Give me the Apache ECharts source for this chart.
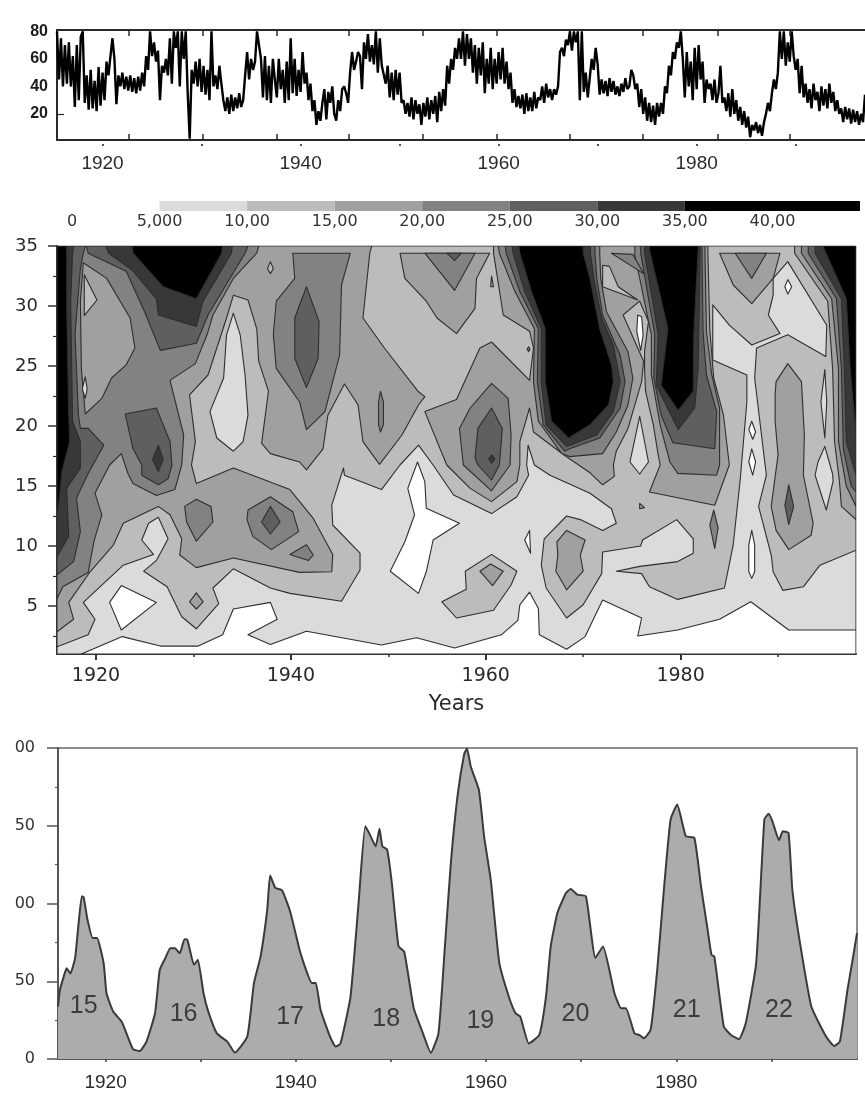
<!DOCTYPE html>
<html><head><meta charset="utf-8">
<style>html,body{margin:0;padding:0;background:#fff}#c{width:865px;height:1093px}</style>
<script src="https://cdn.jsdelivr.net/npm/echarts@6/dist/echarts.min.js"></script>
</head><body><div id="c"></div>
<script>
// ---------- top panel: noisy index, one value each 0.2 yr from 1915.4
const topStartYear = 1915.4, topStepYears = 0.2;
const topValues = [
80,45,75,40,70, 42,72,40,62,25, 70,30,76,80,28, 48,23,52,24,44, 22,54,26,50,30,
58,48,62,75,60, 27,48,40,50,38, 47,37,48,36,46, 35,47,37,50,40, 62,52,80,62,72,
58,66,30,55,50, 60,48,75,42,80, 68,80,40,80,60, 80,35,2,52,42, 58,40,60,36,55,
34,52,30,80,40, 48,38,55,42,30, 22,32,20,34,22, 32,24,35,25,30, 48,65,45,60,52,
58,80,70,60,32, 62,30,55,28,60, 45,32,60,38,52, 28,58,30,75,35, 60,33,52,36,65,
42,50,30,42,22, 30,12,22,15,28, 38,16,36,28,40, 20,15,30,22,38, 40,35,28,50,65,
52,58,65,62,38, 72,60,78,58,70, 56,80,50,75,55, 54,42,55,32,50, 30,52,34,50,28,
30,20,28,18,32, 16,30,20,27,12, 28,18,32,16,30, 20,33,14,36,22, 38,26,55,42,60,
52,68,60,75,60, 80,55,78,60,75, 50,70,42,68,48, 72,35,60,42,68, 38,60,42,65,45,
68,42,58,38,50, 28,38,25,33,24, 34,20,35,22,32, 22,36,24,32,30, 40,28,42,32,38,
30,38,34,40,65, 68,62,74,70,80, 66,80,72,80,30, 80,36,50,32,46, 60,52,68,56,34,
45,35,44,33,46, 36,44,34,40,33, 42,36,46,38,40, 52,48,38,42,25, 38,20,32,15,28,
14,26,12,28,18, 28,20,40,35,55, 48,65,60,72,68, 80,60,32,65,40, 58,30,68,38,70,
45,58,28,45,38, 42,30,45,28,35, 55,28,32,22,35, 18,38,20,30,15, 25,12,22,10,18,
3,12,8,14,6, 12,4,14,20,28, 22,35,45,38,50, 80,60,80,55,72, 58,80,62,52,60,
35,55,32,42,28, 38,24,42,30,36, 22,40,26,38,24, 42,28,36,22,30, 20,24,14,25,16,
24,13,23,14,22, 12,20,14,34
];
const topYTicks = [20,40,60,80];
const topInnerTicks = [1922.6,1930.1,1937.6,1944.9,1952.3,1959.8,1967.2,1974.6,1982.1,1989.4];
const decadeTicks = [1920,1930,1940,1950,1960,1970,1980,1990];
const yearLabels = [1920,1940,1960,1980];

// ---------- colour scale
const bandLabels = ['0','5,000','10,00','15,00','20,00','25,00','30,00','35,00','40,00'];
const bandLabelValues = [0,5,10,15,20,25,30,35,40];
const bandWidths = [5,5,5,5,5,5,5,10];
const levelColors = ['#ffffff','#dbdbdb','#bcbcbc','#a0a0a0','#828282','#5f5f5f','#383838','#000000'];

// ---------- middle panel: contour regions, [year, period], painted in order
const ringBase = [[1916,1],[1998,1],[1998,35],[1916,35]];
const ringBottomWhite = [[1918.5,1],[1922.7,2.45],[1926.6,1.66],[1930.5,1.66],[1933,2.6],[1934.1,4.75],[1937.9,5.3],[1938.6,3.9],[1935.6,2.6],[1937.9,1.8],[1941.6,2.9],[1949.3,1.75],[1952.9,2.35],[1956.8,1.5],[1961.6,2.6],[1963.3,3.8],[1963.5,5.1],[1964.5,6.15],[1965.4,4.8],[1965.5,2.6],[1968.3,1.4],[1970.2,2.45],[1972,5.5],[1976,4],[1975.6,2.5],[1979.7,3],[1984,3.9],[1987.2,5.35],[1991.1,3],[1998,3],[1998,1]];
const ringUpper10 = [[1916,1.6],[1919.2,2.6],[1919.9,3.9],[1918.7,5.3],[1922.8,8.4],[1925.9,9.3],[1924.7,10.5],[1925.4,11.9],[1926.4,12.4],[1927.4,10.6],[1926.2,8.8],[1924.9,7.9],[1927.3,6.6],[1928.8,4.1],[1930.3,3.1],[1932.6,5.2],[1932,6.5],[1934.1,8.1],[1937.9,6.5],[1939.9,6.05],[1945.2,5.4],[1947.1,8],[1947.1,9.4],[1944.3,11.75],[1944.2,13.4],[1945.4,16.5],[1945.5,15.9],[1949.3,14.7],[1951.2,16.75],[1953.1,18.4],[1954.6,16.75],[1956.7,14.25],[1960.6,12.7],[1963.2,14.1],[1964.4,15.9],[1964.2,16.75],[1964.35,18.4],[1965,16.75],[1966.6,15.9],[1970.7,14.4],[1972.9,13.1],[1973.4,11.9],[1972,11.3],[1969.7,12.2],[1968.3,12.5],[1966,10.6],[1965.7,8.4],[1966.2,6.5],[1968.3,4],[1970,5.1],[1971.9,7.7],[1972,9.5],[1975.9,10],[1976.1,10.5],[1979.6,12.2],[1981.3,10.6],[1981.3,9.4],[1979.7,8.7],[1975.8,8.3],[1973.4,7.9],[1976,7.7],[1976.8,6.6],[1979.7,5.55],[1984.5,6.5],[1985.4,10.1],[1986.1,15.4],[1986.8,22],[1986.8,24.25],[1983.3,25.5],[1983.3,30.1],[1985,28.4],[1987.3,26.75],[1990.2,27.7],[1989,29.25],[1989.5,30.9],[1989.5,32.3],[1991,33.7],[1995,28.4],[1994.9,25.8],[1991,27.6],[1987.8,26.5],[1987.6,24],[1988.3,19.25],[1988.8,15.9],[1988,13.3],[1989.3,9.25],[1989.5,7.85],[1990.5,6.3],[1992.6,6.6],[1994.3,8.4],[1998,9.65],[1998,35],[1916,35]];
const ringLeft15 = [[1916,2.85],[1917.7,3.9],[1917.2,5.3],[1919.4,7.85],[1921.8,10.1],[1922.8,11.9],[1926.4,13.3],[1927.6,12.6],[1928.8,10.6],[1928.6,9.25],[1930.3,8.2],[1934.1,9],[1940.9,7.8],[1944.2,7.85],[1944.3,9.3],[1942.3,12.3],[1939.9,14.7],[1934.1,16.5],[1930.3,15.2],[1929.8,16.75],[1930.2,18.7],[1929.6,22.6],[1931.5,24.25],[1933.4,29],[1934.1,30.9],[1935.6,30.5],[1936.5,28.1],[1936.7,25.4],[1937.7,22.9],[1937,18.55],[1937.9,17.7],[1940.9,17],[1941.6,16.35],[1943.3,18.1],[1943.8,20.9],[1945.5,23.5],[1946.9,21.75],[1947.4,18.7],[1949.1,16.8],[1951.4,19.25],[1953.1,21.75],[1953.75,22.45],[1953.1,22.85],[1949.6,26.5],[1947.4,29],[1948.1,34.4],[1948.3,35],[1916,35]];
const ringRight15 = [[1960.8,34.4],[1961.8,29.25],[1964.5,27.9],[1964.9,26.5],[1964.5,23.8],[1960.6,27],[1959.4,26.5],[1957,22.2],[1953.75,21.2],[1956,16.75],[1958.4,14.8],[1960.6,13.7],[1963.2,15.36],[1963.5,16.75],[1963.5,18.7],[1964.5,21.5],[1964.9,19.5],[1968,17.6],[1970.7,16.1],[1972,15.1],[1973.2,15.8],[1973.1,16.75],[1973.4,17.9],[1974.6,19.8],[1976,23.7],[1976.2,25.4],[1975,27.6],[1974.1,29.25],[1975.8,30.4],[1976.7,28.7],[1976.3,26.2],[1976.3,24.8],[1976.4,22.9],[1977.2,20.1],[1977.7,17.6],[1977.9,16.75],[1976.8,14.5],[1983.5,13.4],[1985,16.75],[1984.4,20.9],[1983.4,24],[1983,27.9],[1982.8,34.4],[1982.8,35],[1960.8,35]];
const ringEdge15 = [[1991.7,34.4],[1995.1,30.4],[1995.6,24.8],[1995.8,18.7],[1996.3,15.4],[1996.5,13.3],[1998,12.2],[1998,35],[1991.7,35]];
const ringLeft20 = [[1916,5.6],[1916.6,6.6],[1919.2,7.8],[1919.8,10.4],[1920.6,12.6],[1919.9,14.4],[1921.4,16.75],[1922.6,17.7],[1923.3,16],[1923.8,15.2],[1926.2,14.2],[1928.1,14.7],[1928.8,16.75],[1929,19.25],[1927.6,23.8],[1930.2,25.2],[1931.4,27.6],[1932,29.25],[1934.1,32.3],[1936.5,34.4],[1936.7,35],[1916,35]];
const ringLeft25 = [[1916,7.6],[1917.7,8.7],[1918.4,11.2],[1918,14],[1919.2,16.05],[1920.8,18.4],[1919.2,19.8],[1918.4,19.8],[1918.2,20.9],[1917.85,27.6],[1918.4,33.1],[1918.7,34.4],[1918.9,35],[1916,35]];
const ringLeft30 = [[1916,9.1],[1917.2,10.8],[1917,14.8],[1918.4,16.5],[1918.4,18.7],[1917.6,20.4],[1917.4,30.4],[1917.6,34.4],[1917.7,35],[1916,35]];
const ringLeft35 = [[1916,12],[1916.5,16.2],[1917.3,18.7],[1917.2,21],[1917,30],[1917,35],[1916,35]];
const ringTop25 = [[1919.2,34.4],[1923.1,32.9],[1925,29.5],[1926.6,26.3],[1930.3,26.9],[1931.5,29.25],[1935.3,34.4],[1935.6,35],[1919,35]];
const ringTop30 = [[1921.3,34.4],[1923.7,33],[1926.2,30.6],[1926.4,29.25],[1930.3,28.3],[1931,30.4],[1933.9,34.4],[1934,35],[1921,35]];
const ringTop35 = [[1923.8,34.4],[1926.9,31.6],[1930.3,30.6],[1932.9,34.4],[1933,35],[1923.7,35]];
const ringIslandA = [[1918.7,33.6],[1921.1,32.3],[1923.5,29],[1924,26.5],[1923.1,25.1],[1921.6,24],[1920.6,22.3],[1918.9,21],[1918.5,24.8],[1918.4,30.4]];
const ringIslandB = [[1918.8,32.6],[1920.1,30.5],[1918.8,29.2]];
const ringIslandC = [[1918.9,24.1],[1919.1,23.1],[1918.9,22.3],[1918.6,23.1]];
const ringPeak26a = [[1923,21],[1926.2,21.5],[1927.6,18.7],[1927.8,16.75],[1927.4,15.6],[1926.4,15.1],[1924.7,15.9],[1924.7,16.75],[1923.8,18.1]];
const ringPeak26b = [[1926.4,18.4],[1926.9,17.2],[1926.4,16.2],[1925.8,17.2]];
const ringPatch30 = [[1929.1,13.3],[1930.3,13.9],[1931.8,13.3],[1932,12],[1930.3,10.4],[1929.3,12]];
const ringPatch38 = [[1935.6,13],[1937.9,14.1],[1940.2,12.85],[1940.8,11.2],[1938,9.7],[1936.1,10.8],[1935.5,12.2]];
const ringPatch38b = [[1937.9,13.3],[1938.9,12],[1937.9,11],[1937,12]];
const ringPatch41 = [[1939.9,9.3],[1941.6,10.1],[1942.3,9.25],[1941.8,8.8]];
const ringHole34 = [[1934.1,29.4],[1934.8,27.6],[1935.3,24.25],[1935.6,20.9],[1935.1,18.7],[1934.1,17.9],[1932.4,19],[1931.7,21.2],[1933.1,24],[1933.4,27.6]];
const ringLens38 = [[1937.9,33.7],[1938.2,33.1],[1937.9,32.7],[1937.6,33.1]];
const ringCol42 = [[1940.2,34.4],[1940.4,32.3],[1938.5,30.4],[1938.2,27.6],[1938.5,24.8],[1940.9,22],[1941.6,19.7],[1943.5,21.2],[1945,25.9],[1945.2,31.75],[1946.1,34.4]];
const ringCol42b = [[1941.6,31.6],[1942.9,28.7],[1942.8,25.65],[1941.6,23.2],[1940.4,25.65],[1940.4,29]];
const ringLens49 = [[1949.2,22.9],[1949.5,22],[1949.5,20.1],[1949.2,19.5],[1949,20.1],[1949,22]];
const ringTop57a = [[1951.2,34.4],[1951.7,32.3],[1953.9,30.4],[1955,29],[1957,27.7],[1958.9,29.8],[1959.05,32.3],[1960.4,34.4]];
const ringTop57b = [[1953.75,34.4],[1956.8,31.3],[1958.9,34.4]];
const ringTop57c = [[1956,34.4],[1956.8,33.8],[1957.5,34.4]];
const ringLens60 = [[1960.6,32.5],[1960.8,31.6],[1960.5,31.6]];
const ringDot64 = [[1964.4,26.6],[1964.55,26.4],[1964.4,26.2],[1964.25,26.4]];
const ringPeak60a = [[1960.6,23.55],[1962.3,22.3],[1962.6,19.25],[1962.5,16.75],[1960.6,14.6],[1957.7,16.75],[1957.3,19.8],[1958.4,21.5]];
const ringPeak60b = [[1960.6,21.5],[1961.7,19.8],[1961.4,16.75],[1960.6,15.5],[1959.2,16.75],[1958.9,17.3],[1959.2,19.8]];
const ringPeak60c = [[1960.6,17.6],[1960.95,17.25],[1960.6,16.9],[1960.3,17.25]];
const ringWhite53 = [[1953,17],[1953.75,15.36],[1953.9,13.15],[1957.3,11.9],[1954.6,10.5],[1953.9,7.85],[1953.1,6.05],[1950.2,7.9],[1951.7,10.35],[1952.7,12.6],[1952,14.8]];
const ringWhite23 = [[1922.6,6.7],[1926.2,5.3],[1922.6,3],[1921.4,5.3]];
const ringDot30 = [[1930.3,6.1],[1931,5.35],[1930.3,4.75],[1929.6,5.35]];
const ringIsle57a = [[1955.5,5.35],[1958,6.4],[1957.9,7.9],[1960.6,9.3],[1963.2,7.9],[1962.6,6.75],[1960.8,4.65],[1957,4]];
const ringIsle57b = [[1959.4,7.9],[1960.5,8.5],[1961.8,7.9],[1960.7,6.7]];
const ringLens64 = [[1964.5,11.3],[1964.6,9.4],[1964,10.5]];
const ringPeak69 = [[1967.3,10.35],[1968.3,11.3],[1970.2,10.5],[1969.7,9.25],[1970,7.9],[1968.3,6.35],[1967.2,7.9],[1967.4,9.25]];
const ringU1a = [[1961.4,34.4],[1963,31.2],[1965,28.1],[1964.9,23.7],[1965.4,20.4],[1967.8,17.7],[1968.6,17.45],[1972,17.7],[1973.4,19.5],[1974.6,21.75],[1975.1,24],[1974.6,26.2],[1972.4,29.5],[1971.8,32.3],[1971.7,34.4],[1971.7,35],[1961.3,35]];
const ringU1b = [[1962.1,34.4],[1963.5,31.2],[1965.4,28.1],[1965.3,23.7],[1965.9,20.1],[1968.1,17.9],[1968.6,18.1],[1971.7,19],[1973.8,21.5],[1974.3,23.7],[1973.8,25.9],[1972,29.25],[1971.4,32.3],[1971.2,34.4],[1971.2,35],[1962,35]];
const ringU1c = [[1962.8,34.4],[1964,31.2],[1965.7,28.1],[1965.7,23.7],[1966.2,20.1],[1968.3,18.3],[1971.4,19.25],[1973.1,21.2],[1973.8,23.7],[1973.1,26.75],[1971.9,29],[1971.1,32.3],[1970.75,34.4],[1970.75,35],[1962.7,35]];
const ringU1d = [[1963.5,34.4],[1964.7,31.2],[1966.1,28.1],[1966.1,23.7],[1966.75,20.4],[1968.5,19],[1970.7,20.1],[1972.6,21.75],[1973.1,23.7],[1972.9,25.1],[1971.7,28.1],[1970.7,32.3],[1970,34.4],[1970,35],[1963.4,35]];
const ringU2a = [[1975.3,34.25],[1977,27.6],[1977,24.25],[1977.9,20.1],[1978.9,17],[1979.7,16.05],[1983.7,15.9],[1984,16.75],[1984,21.5],[1983.2,24.25],[1982.65,27.9],[1982.5,34.4],[1982.5,35],[1975.3,35]];
const ringU2b = [[1975.9,34.4],[1977.35,27.6],[1977.25,24],[1978,20.9],[1979.2,18.6],[1983.5,18.1],[1983.7,21.2],[1982.65,24.25],[1982.3,27.9],[1982.2,34.4],[1982.2,35],[1975.9,35]];
const ringU2c = [[1976.3,34.4],[1977.7,27.6],[1977.5,23.4],[1979.75,19.7],[1981.45,21.5],[1981.8,24.8],[1982,34.4],[1982,35],[1976.3,35]];
const ringU2d = [[1976.8,34.7],[1978.7,28.1],[1978,23.4],[1979.75,21.3],[1981.3,22.9],[1981.35,27.6],[1981.8,34.7],[1981.8,35],[1976.8,35]];
const ringLight72 = [[1972,33.4],[1972.7,33.3],[1973.6,31.6],[1975.6,30.5],[1972,31.6]];
const ringWedge74 = [[1972.9,34.4],[1976.2,32.7],[1975.1,34.3]];
const ringEll76 = [[1975.6,29.25],[1976,29.1],[1976.15,27.6],[1975.9,26.3],[1975.5,27.9]];
const ringDia76 = [[1975.8,20.8],[1976.7,17],[1975.8,16],[1974.8,17]];
const ringTri76 = [[1975.8,13.55],[1976.3,13.2],[1975.8,13.1]];
const ringLens83 = [[1983.4,13],[1983.85,11.5],[1983.5,9.8],[1983,11.75]];
const ringTop87a = [[1984,34.4],[1985.4,31.75],[1987.3,30.2],[1989.5,32.3],[1990.2,34.4]];
const ringTop87b = [[1985.6,34.4],[1987.3,32.3],[1988.8,34.4]];
const ringW87a = [[1987.3,11.3],[1987.6,10.1],[1987.6,7.85],[1987.3,7.3],[1987,7.85],[1987,10.1]];
const ringW87b = [[1987.3,20.4],[1987.7,19.5],[1987.4,18.9],[1987,19.7]];
const ringW87c = [[1987.3,18.1],[1987.7,17],[1987.4,15.9],[1987,17]];
const ringW91 = [[1991,32.2],[1991.4,31.6],[1991,31],[1990.7,31.6]];
const ringCol91 = [[1989.7,22.6],[1989.8,23.7],[1991,25.2],[1992.4,23.7],[1992.7,19.25],[1992.6,15.9],[1993.6,11.9],[1993.4,10.9],[1991.1,9.7],[1989.8,11.3],[1989.3,13.3],[1990,17.6],[1989.7,20.4]];
const ringCol91b = [[1991.1,15.1],[1991.6,13.3],[1991.1,11.8],[1990.7,13.4]];
const ringLens95a = [[1994.8,24.7],[1995,22],[1994.8,19],[1994.4,22]];
const ringLens95b = [[1994.8,18.3],[1995.6,16],[1995.65,15.4],[1994.95,13],[1993.8,15.9],[1994.1,17]];
const ringEdge20 = [[1992.4,34.4],[1995.5,30.6],[1996.2,24.8],[1996.2,18.7],[1997,15],[1998,13.3],[1998,35],[1992.4,35]];
const ringEdge25 = [[1993.1,34.4],[1996,30.6],[1996.5,24.8],[1996.7,18.1],[1997.5,15],[1998,14.5],[1998,35],[1993.1,35]];
const ringEdge30 = [[1993.8,34.4],[1996.5,30.6],[1996.8,24.8],[1997,18.7],[1998,15.9],[1998,35],[1993.8,35]];
const ringEdge35 = [[1994.6,35],[1997,30.6],[1997.4,24.8],[1998,19.25],[1998,35]];

const contourPaint = [
 [1,ringBase],[0,ringBottomWhite],[2,ringUpper10],[3,ringLeft15],[3,ringRight15],[3,ringEdge15],
 [4,ringLeft20],[5,ringLeft25],[6,ringLeft30],[7,ringLeft35],[5,ringTop25],[6,ringTop30],[7,ringTop35],
 [3,ringIslandA],[2,ringIslandB],[1,ringIslandC],[5,ringPeak26a],[6,ringPeak26b],[4,ringPatch30],[4,ringPatch38],[5,ringPatch38b],[4,ringPatch41],
 [1,ringHole34],[2,ringLens38],[4,ringCol42],[5,ringCol42b],[4,ringLens49],[3,ringTop57a],[4,ringTop57b],[5,ringTop57c],[3,ringLens60],[4,ringDot64],
 [4,ringPeak60a],[5,ringPeak60b],[6,ringPeak60c],[0,ringWhite53],[0,ringWhite23],[3,ringDot30],[2,ringIsle57a],[3,ringIsle57b],[0,ringLens64],[3,ringPeak69],
 [4,ringU1a],[5,ringU1b],[6,ringU1c],[7,ringU1d],[4,ringU2a],[5,ringU2b],[6,ringU2c],[7,ringU2d],
 [2,ringLight72],[4,ringWedge74],[0,ringEll76],[1,ringDia76],[3,ringTri76],[4,ringLens83],[3,ringTop87a],[4,ringTop87b],
 [0,ringW87a],[0,ringW87b],[0,ringW87c],[0,ringW91],[3,ringCol91],[5,ringCol91b],[1,ringLens95a],[1,ringLens95b],
 [4,ringEdge20],[5,ringEdge25],[6,ringEdge30],[7,ringEdge35]
];

const midYTicks = [5,10,15,20,25,30,35];
const midYMinor = [2.5,7.5,12.5,17.5,22.5,27.5,32.5];
const midXMinor = [1930,1950,1970,1990];

// ---------- bottom panel: sunspot number
const sunYears = [1915,1915.2,1915.6,1915.9,1916.3,1916.8,1917.1,1917.5,1917.7,1918.1,1918.65,1919.1,1919.8,1920.1,1920.8,1921.7,1922.4,1922.9,1923.6,1924.3,1925.2,1925.7,1926.3,1926.8,1927.3,1927.8,1928.3,1928.6,1929.3,1929.7,1930.3,1930.8,1931.7,1932.8,1933.6,1934.9,1935.6,1936.3,1937,1937.3,1937.85,1938.55,1939.4,1940.5,1941.7,1942.1,1942.6,1943.6,1944.2,1944.7,1945.75,1946.6,1947.3,1947.7,1948.4,1948.8,1949.1,1949.6,1950.1,1950.8,1951.4,1952.4,1953.3,1954.2,1955,1955.7,1956.3,1957,1957.7,1958,1958.4,1959.25,1959.8,1960.5,1961.4,1962.4,1963.1,1963.6,1964.5,1965.6,1966.3,1966.8,1967.5,1968.4,1968.9,1969.6,1970.5,1971.5,1972.3,1973.5,1974.2,1974.7,1975.6,1976.1,1976.6,1977.3,1978,1978.7,1979.4,1980.1,1981,1981.9,1982.6,1983.3,1983.7,1984,1985,1985.75,1986.6,1987.3,1988.4,1989.26,1989.7,1990.1,1990.8,1991.2,1991.8,1992.2,1992.95,1994.2,1995.75,1996.6,1997.2,1998,1998.6,1999];
const sunValues = [33.7,44.5,53,58.4,55,65,83,104.6,104,89.6,77.8,77.8,61.6,42.3,30.5,24,13.3,6.2,5.2,11.2,29.4,57.4,65,71.3,71.3,68,77,76.7,60.6,63.8,42.3,30.5,16.5,11.2,4.1,14.4,48.8,66,96,118,110,108.5,95,68,48.8,48.8,31.6,14.4,8,10,40,100.3,149.7,145.4,136.8,148,136.8,134.7,113,72.4,69,32.6,17.6,4,16.5,74.5,126,169,196,199.6,188,173,143,115,61.6,40,29.4,27.3,10,15.5,40,72.4,93.9,106.8,109.3,105.7,104.6,65,72.4,42.3,32.6,32.6,16.5,15.5,13.3,18.7,57.4,109,154,163.7,143.3,142.2,111,83,67,66,20.8,15.5,12.7,23,61.6,154,157.7,153,140.7,146.5,145.4,109,76.7,33.7,14.4,8.4,11.2,44.5,66,81];
const cycleNames = ['15','16','17','18','19','20','21','22'];
const cycleYears = [1917.7,1928.2,1939.4,1949.5,1959.4,1969.4,1981.1,1990.8];
const cycleValues = [33.7,29,27,25.8,24.5,29,31.6,31.6];
const sunYTicks = [0,50,100,150,200];
const sunYTickNames = ['0','50','00','50','00'];
const sunYMinor = [25,75,125,175];

const ink = '#2a2a2a';
const sans = '"Liberation Sans"', wide = '"DejaVu Sans"';
const noLine = {show:false}, noTick = {show:false}, noLabel = {show:false}, noSplit = {show:false};

const option = {
  animation:false, backgroundColor:'#fff',
  grid:[
    {left:57,top:30,width:808,height:110,show:false},
    {left:72,top:201,width:788,height:10,show:false},
    {left:57,top:246,width:799,height:408,show:true,borderColor:'#8a8a8a',borderWidth:1,backgroundColor:'transparent'},
    {left:58,top:748,width:799,height:311,show:true,borderColor:'#6a6a6a',borderWidth:1.5,backgroundColor:'transparent'}
  ],
  xAxis:[
    {gridIndex:0,type:'value',min:1915.4,max:1997,position:'bottom',splitLine:noSplit,axisLabel:noLabel,
      axisLine:{show:true,lineStyle:{color:ink,width:2}},axisTick:{show:true,inside:true,length:6,customValues:topInnerTicks,lineStyle:{color:ink,width:1.5}}},
    {gridIndex:0,type:'value',min:1915.4,max:1997,position:'top',splitLine:noSplit,axisLabel:noLabel,
      axisLine:{show:true,lineStyle:{color:ink,width:2}},axisTick:{show:true,inside:true,length:6,customValues:topInnerTicks,lineStyle:{color:ink,width:1.5}}},
    {gridIndex:0,type:'value',min:1915.4,max:1997,position:'bottom',offset:4,splitLine:noSplit,axisLine:noLine,
      axisTick:{show:true,length:2,customValues:decadeTicks,lineStyle:{color:'#555',width:2}},
      axisLabel:{show:true,customValues:yearLabels,margin:10,color:ink,fontFamily:sans,fontSize:19,formatter:v=>String(v),hideOverlap:false}},
    {gridIndex:1,type:'value',min:0,max:45,splitLine:noSplit,axisLine:noLine,axisTick:noTick,
      axisLabel:{show:true,customValues:bandLabelValues,margin:3,color:'#333',fontFamily:wide,fontSize:16,
        formatter:v=>bandLabels[bandLabelValues.indexOf(v)],hideOverlap:false}},
    {gridIndex:2,type:'value',min:1916,max:1998,position:'bottom',splitLine:noSplit,name:'Years',nameLocation:'middle',nameGap:40,
      nameTextStyle:{color:ink,fontFamily:wide,fontSize:21},
      axisLine:{show:true,lineStyle:{color:'#333',width:2}},axisTick:{show:true,length:6,customValues:yearLabels,lineStyle:{color:'#333',width:2}},
      axisLabel:{show:true,customValues:yearLabels,margin:13,color:ink,fontFamily:wide,fontSize:19,formatter:v=>String(v),hideOverlap:false}},
    {gridIndex:2,type:'value',min:1916,max:1998,position:'bottom',splitLine:noSplit,axisLine:noLine,axisLabel:noLabel,
      axisTick:{show:true,length:3,customValues:midXMinor,lineStyle:{color:'#333',width:1.5}}},
    {gridIndex:3,type:'value',min:1915,max:1999,position:'bottom',splitLine:noSplit,
      axisLine:{show:true,lineStyle:{color:'#555',width:2}},axisTick:{show:true,length:3,customValues:decadeTicks,lineStyle:{color:'#444',width:1.5}},
      axisLabel:{show:true,customValues:yearLabels,margin:14,color:ink,fontFamily:sans,fontSize:19,formatter:v=>String(v),hideOverlap:false}}
  ],
  yAxis:[
    {gridIndex:0,type:'value',position:'left',min:1,max:81,splitLine:noSplit,
      axisLine:{show:true,lineStyle:{color:ink,width:2}},axisTick:{show:true,inside:true,length:7,customValues:[20],lineStyle:{color:ink,width:1.2}},
      axisLabel:{show:true,customValues:topYTicks,margin:9,color:'#1c1c1c',fontFamily:sans,fontWeight:'bold',fontSize:16,formatter:v=>String(v),hideOverlap:false}},
    {gridIndex:1,type:'category',data:['bands'],show:false},
    {gridIndex:2,type:'value',position:'left',min:1,max:35,splitLine:noSplit,
      axisLine:{show:true,lineStyle:{color:'#333',width:2}},axisTick:{show:true,length:9,customValues:midYTicks,lineStyle:{color:'#333',width:1.5}},
      axisLabel:{show:true,customValues:midYTicks,margin:19,color:ink,fontFamily:wide,fontSize:18,formatter:v=>String(v),hideOverlap:false}},
    {gridIndex:2,type:'value',position:'left',min:1,max:35,splitLine:noSplit,axisLine:noLine,axisLabel:noLabel,
      axisTick:{show:true,length:4,customValues:midYMinor,lineStyle:{color:'#333',width:1.2}}},
    {gridIndex:3,type:'value',position:'left',min:0,max:200,splitLine:noSplit,
      axisLine:{show:true,lineStyle:{color:'#555',width:2}},axisTick:{show:true,length:11,customValues:sunYTicks,lineStyle:{color:'#555',width:1.5}},
      axisLabel:{show:true,customValues:sunYTicks,margin:23,color:'#333',fontFamily:wide,fontSize:16,
        formatter:v=>sunYTickNames[sunYTicks.indexOf(v)],hideOverlap:false}},
    {gridIndex:3,type:'value',position:'left',min:0,max:200,splitLine:noSplit,axisLine:noLine,axisLabel:noLabel,
      axisTick:{show:true,length:3,customValues:sunYMinor,lineStyle:{color:'#555',width:1.2}}}
  ],
  series:[
    {type:'line',xAxisIndex:0,yAxisIndex:0,showSymbol:false,silent:true,clip:true,
      lineStyle:{color:'#000',width:2.4},
      data:topValues.map((v,i)=>[topStartYear+i*topStepYears,v])},
    ...bandWidths.map((w,i)=>({type:'bar',xAxisIndex:3,yAxisIndex:1,stack:'bands',barWidth:'100%',silent:true,
      itemStyle:{color:levelColors[i]},data:[w]})),
    {type:'custom',xAxisIndex:4,yAxisIndex:2,clip:true,silent:true,
      data:contourPaint.map((r,i)=>[r[1][0][0],r[1][0][1],i]),
      renderItem:(params,api)=>{
        const i=api.value(2);
        return {type:'polygon',z2:i,shape:{points:contourPaint[i][1].map(p=>api.coord(p))},
          style:{fill:levelColors[contourPaint[i][0]],stroke:'#2e2e2e',lineWidth:1.1,lineJoin:'round'}};
      }},
    {type:'line',xAxisIndex:6,yAxisIndex:4,showSymbol:false,silent:true,clip:true,smooth:0.15,
      lineStyle:{color:'#3a3a3a',width:2},areaStyle:{color:'#acacac',opacity:1},
      data:sunYears.map((y,i)=>[y,sunValues[i]])},
    {type:'scatter',xAxisIndex:6,yAxisIndex:4,symbolSize:0,silent:true,z:5,
      label:{show:true,position:'inside',color:'#202020',fontFamily:sans,fontSize:25,formatter:p=>cycleNames[p.dataIndex]},
      data:cycleYears.map((y,i)=>[y,cycleValues[i]])}
  ]
};
echarts.init(document.getElementById('c'),null,{renderer:'canvas'}).setOption(option);
</script></body></html>
